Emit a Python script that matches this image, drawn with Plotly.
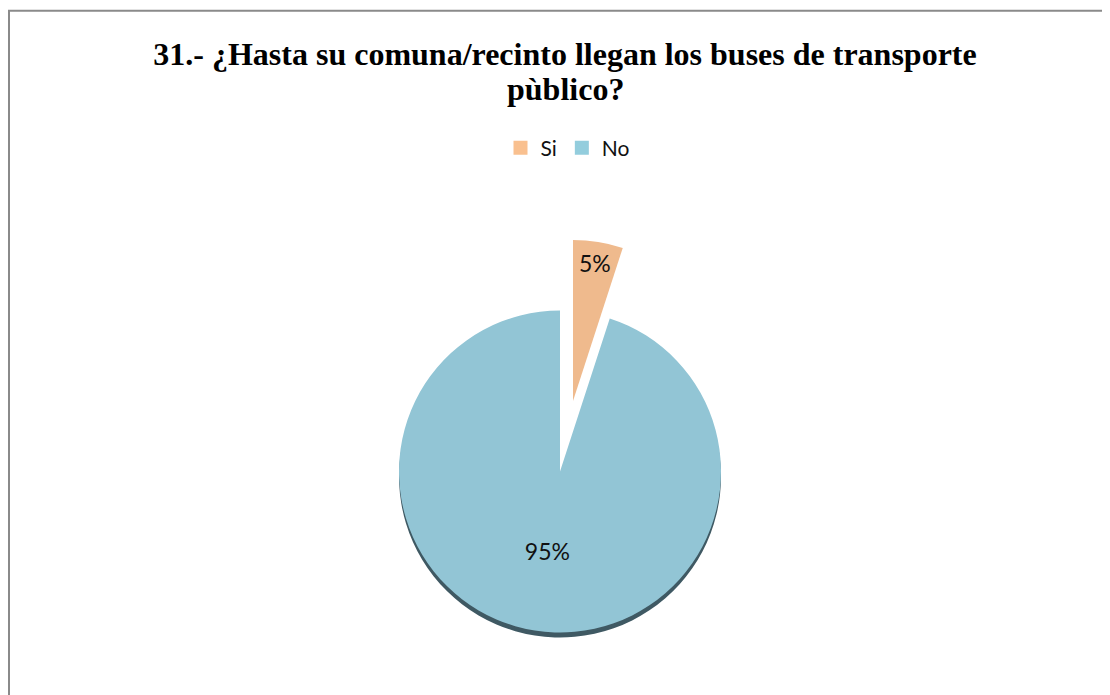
import plotly.graph_objects as go

# ---- data ----
labels = ["Si", "No"]
values = [5, 95]
title_line1 = "<b>31.- ¿Hasta su comuna/recinto llegan los buses de transporte</b>"
title_line2 = "<b>pùblico?</b>"

# ---- styles / layout (figure pixel coordinates) ----
W, H = 1110, 695
col_si = "#EFBA8D"
col_no = "#92C5D5"
leg_si = "#F9C08F"
leg_no = "#93CDDD"
shadow = "#3F5963"
clear = "rgba(0,0,0,0)"

R = 161              # pie radius (px)
CX, CY = 552, 463.5  # pie centre
PULL_DX, PULL_DY = 13, -70.5  # offset of the exploded slice
SHADOW_DY = 5


def dom(cx, cy, r):
    return dict(x=[(cx - r) / W, (cx + r) / W],
                y=[(H - cy - r) / H, (H - cy + r) / H])


common = dict(labels=labels, values=values, sort=False, direction="clockwise",
              rotation=0, showlegend=False, hoverinfo="label+percent",
              textfont=dict(family="Lato, Open Sans, sans-serif", size=23, color="#111"),
              insidetextorientation="horizontal")

fig = go.Figure()
# 3D-like rim under the big slice
fig.add_trace(go.Pie(**common, domain=dom(CX, CY + SHADOW_DY, R),
                     marker=dict(colors=[clear, shadow]), texttemplate=["", ""]))
# main slice (No)
fig.add_trace(go.Pie(**common, domain=dom(CX, CY, R),
                     marker=dict(colors=[clear, col_no]),
                     texttemplate=["", "%{percent:.0%}"], textposition="inside"))
# exploded slice (Si)
fig.add_trace(go.Pie(**common, domain=dom(CX + PULL_DX, CY + PULL_DY, R),
                     marker=dict(colors=[col_si, clear]),
                     texttemplate=["%{percent:.0%}", ""], textposition="inside"))

# legend entries
for lab, c in zip(labels, [leg_si, leg_no]):
    fig.add_trace(go.Scatter(x=[None], y=[None], mode="markers", name=lab,
                             marker=dict(symbol="square", size=14, color=c),
                             showlegend=True))

title_font = dict(family="Liberation Serif, Times New Roman, serif", size=32, color="black")

fig.update_layout(
    width=W, height=H,
    margin=dict(l=0, r=0, t=0, b=0),
    paper_bgcolor="white", plot_bgcolor="white",
    title=dict(text=title_line1, x=557 / W, xanchor="center", y=1 - 46 / H, yanchor="middle",
               font=title_font),
    annotations=[dict(text=title_line2, xref="paper", yref="paper", x=557 / W, y=1 - 81 / H,
                      xanchor="center", yanchor="middle", showarrow=False, font=title_font)],
    legend=dict(orientation="h", x=560 / W, xanchor="center", y=1 - 140 / H, yanchor="middle",
                font=dict(family="Lato, Open Sans, sans-serif", size=21, color="#111"),
                itemwidth=30, bgcolor=clear),
    xaxis=dict(visible=False), yaxis=dict(visible=False),
    shapes=[dict(type="rect", xref="paper", yref="paper",
                 x0=1 / W, x1=1.05, y0=-0.05, y1=1 - 2.7 / H,
                 line=dict(color="#8A8A8A", width=2), fillcolor=clear, layer="above")],
)

fig.write_html("out.html")
